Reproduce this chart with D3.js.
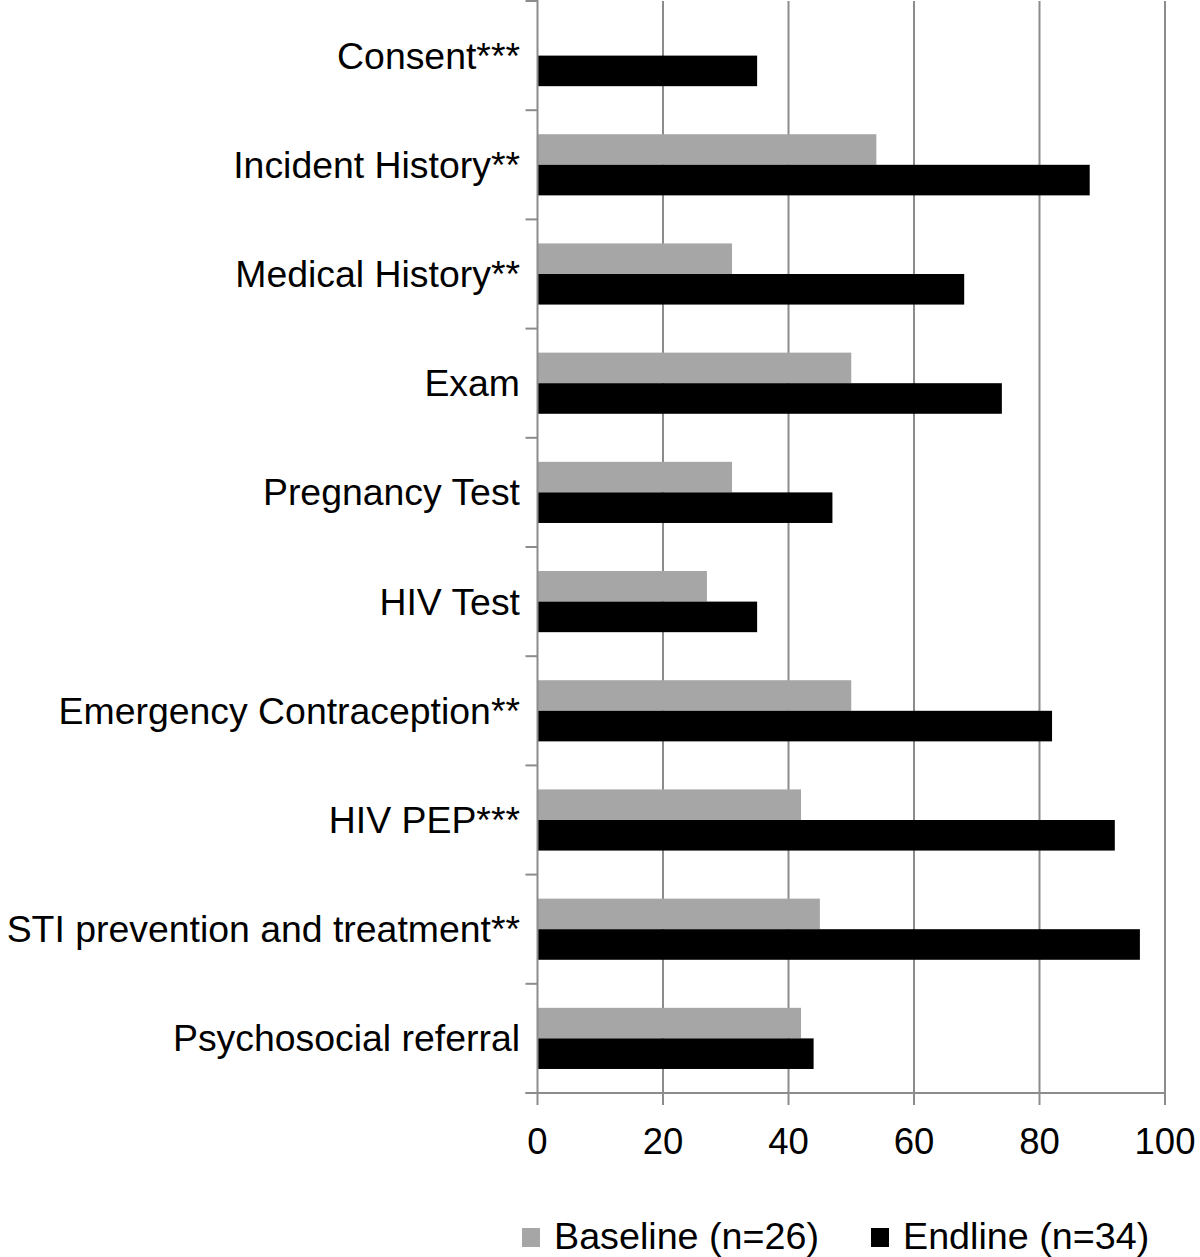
<!DOCTYPE html>
<html>
<head>
<meta charset="utf-8">
<script src="https://cdn.jsdelivr.net/npm/d3@7"></script>
<style>
  html, body { margin: 0; padding: 0; background: #fff; }
  text { font-family: "Liberation Sans", Arial, Helvetica, sans-serif; fill: #000; }
</style>
</head>
<body>
<svg id="chart" width="1200" height="1257"></svg>
<script>
const categories = [
  "Consent***",
  "Incident History**",
  "Medical History**",
  "Exam",
  "Pregnancy Test",
  "HIV Test",
  "Emergency Contraception**",
  "HIV PEP***",
  "STI prevention and treatment**",
  "Psychosocial referral"
];
const seriesNames = ["Baseline (n=26)", "Endline (n=34)"];
const baselineValues = [0, 54, 31, 50, 31, 27, 50, 42, 45, 42];
const endlineValues  = [35, 88, 68, 74, 47, 35, 82, 92, 96, 44];
const xTicks = [0, 20, 40, 60, 80, 100];
const seriesColors = ["#a6a6a6", "#000000"];

(function () {
const svg = d3.select("#chart");
const plotLeft = 537.5, plotRight = 1165, plotTop = 1, plotBottom = 1093;
const gridColor = "#8c8c8c";

const x = d3.scaleLinear().domain([0, 100]).range([plotLeft, plotRight]);
const y = d3.scaleBand().domain(categories).range([plotTop, plotBottom]).padding(0);
const bw = y.bandwidth();
const ySub = d3.scaleBand().domain(seriesNames).range([bw * 0.22, bw * 0.78]).padding(0);

// gridlines
svg.append("g").selectAll("line").data(xTicks.filter(d => d > 0)).join("line")
  .attr("x1", d => x(d)).attr("x2", d => x(d))
  .attr("y1", plotTop).attr("y2", plotBottom)
  .attr("stroke", gridColor).attr("stroke-width", 2);

// bars
const data = categories.map((c, i) => ({cat: c, vals: [baselineValues[i], endlineValues[i]]}));
const groups = svg.append("g").selectAll("g").data(data).join("g")
  .attr("transform", d => `translate(0,${y(d.cat)})`);
groups.selectAll("rect").data(d => d.vals.map((v, j) => ({v, s: seriesNames[j], j}))).join("rect")
  .attr("x", x(0))
  .attr("y", d => ySub(d.s))
  .attr("width", d => x(d.v) - x(0))
  .attr("height", ySub.bandwidth())
  .attr("fill", d => seriesColors[d.j]);

// y axis
const yAxisG = svg.append("g");
yAxisG.append("line").attr("x1", plotLeft).attr("x2", plotLeft).attr("y1", plotTop - 1).attr("y2", plotBottom)
  .attr("stroke", gridColor).attr("stroke-width", 2);
const boundaries = categories.map(c => y(c)).concat([plotBottom]);
yAxisG.selectAll("line.tk").data(boundaries).join("line").attr("class", "tk")
  .attr("x1", plotLeft - 12).attr("x2", plotLeft).attr("y1", d => d).attr("y2", d => d)
  .attr("stroke", gridColor).attr("stroke-width", 2);
yAxisG.selectAll("text").data(categories).join("text")
  .attr("x", 520).attr("y", d => y(d) + bw / 2)
  .attr("text-anchor", "end").attr("dominant-baseline", "central")
  .attr("font-size", 37.4)
  .text(d => d);

// x axis
const xAxisG = svg.append("g");
xAxisG.append("line").attr("x1", plotLeft - 12).attr("x2", plotRight).attr("y1", plotBottom).attr("y2", plotBottom)
  .attr("stroke", gridColor).attr("stroke-width", 2);
xAxisG.selectAll("line.tk").data(xTicks).join("line").attr("class", "tk")
  .attr("x1", d => x(d)).attr("x2", d => x(d)).attr("y1", plotBottom).attr("y2", plotBottom + 12)
  .attr("stroke", gridColor).attr("stroke-width", 2);
xAxisG.selectAll("text").data(xTicks).join("text")
  .attr("x", d => x(d)).attr("y", 1154)
  .attr("text-anchor", "middle").attr("font-size", 36.5)
  .text(d => d);

// legend
const legendX = [522, 871];
const leg = svg.append("g").selectAll("g").data(seriesNames).join("g")
  .attr("transform", (d, i) => `translate(${legendX[i]},0)`);
leg.append("rect").attr("x", 0).attr("y", 1228).attr("width", 18).attr("height", 19)
  .attr("fill", (d, i) => seriesColors[i]);
leg.append("text").attr("x", 32).attr("y", 1249).attr("font-size", 37.7).text(d => d);
})();
</script>
</body>
</html>
